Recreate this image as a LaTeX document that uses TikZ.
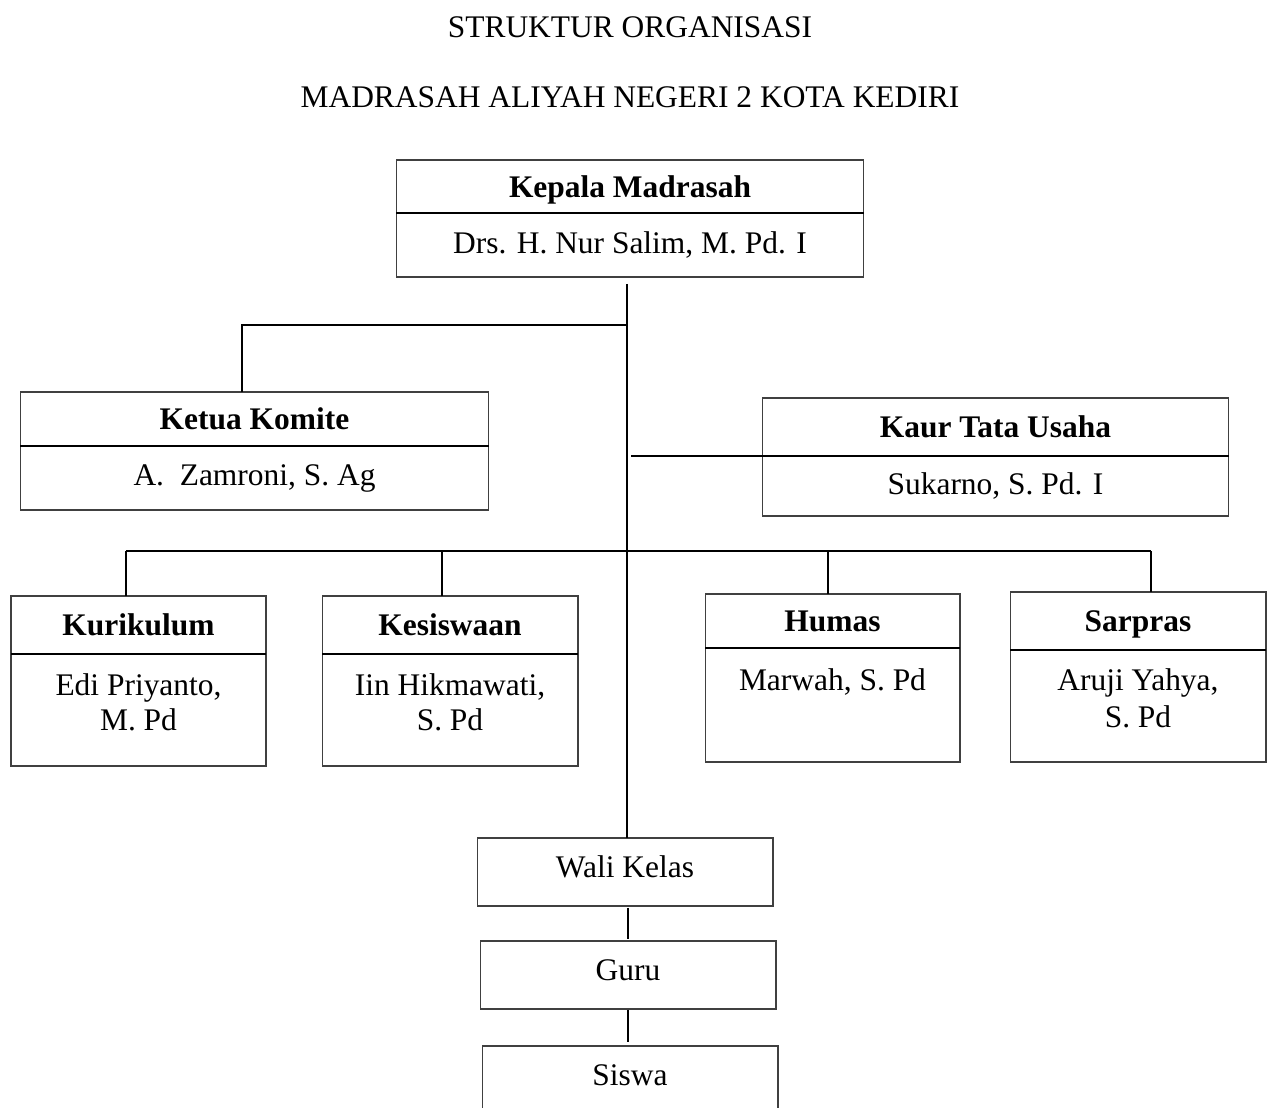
\documentclass[tikz,border=0pt]{standalone}
\usepackage{fontspec}
\setmainfont{Liberation Serif}
\usepackage{tikz}
\usetikzlibrary{positioning}

\begin{document}
\begin{tikzpicture}[
  x=0.02cm, y=-0.02cm,
  font=\fontsize{17.9pt}{20pt}\selectfont,
  head/.style={rectangle, draw=black!75, line width=0.6pt, outer sep=0pt,
               inner sep=0pt, text height=12pt, text depth=0pt,
               font=\fontsize{17.9pt}{20pt}\selectfont\bfseries},
  body/.style={rectangle, draw=black!75, line width=0.6pt, outer sep=0pt,
               inner sep=0pt, align=center},
  single/.style={rectangle, draw=black!75, line width=0.6pt, outer sep=0pt,
                 inner sep=0pt, text height=12pt, text depth=5.5pt,
                 minimum width=5.92cm, minimum height=1.36cm},
  divider/.style={line width=1.1pt},
  conn/.style={line width=1.1pt},
]
\useasboundingbox (0,0) rectangle (1269,1108);

% Title
\node (title) at (630,27) {STRUKTUR ORGANISASI};
\node (subtitle) at (630,97) {MADRASAH ALIYAH NEGERI 2 KOTA KEDIRI};

% Kepala Madrasah
\node[head, minimum width=9.36cm, minimum height=1.06cm] (kephead) at (630,186.5)
  {Kepala Madrasah};
\node[body, minimum width=9.36cm, minimum height=1.28cm, below=0pt of kephead] (kepbody)
  {Drs. H. Nur Salim, M. Pd. I};

% Ketua Komite
\node[head, minimum width=9.38cm, minimum height=1.08cm] (komhead) at (254.5,419)
  {Ketua Komite};
\node[body, minimum width=9.38cm, minimum height=1.28cm, below=0pt of komhead] (kombody)
  {A.\ \ Zamroni, S. Ag};

% Kaur Tata Usaha
\node[head, minimum width=9.34cm, minimum height=1.16cm] (tuhead) at (995.5,427)
  {Kaur Tata Usaha};
\node[body, minimum width=9.34cm, minimum height=1.2cm, below=0pt of tuhead] (tubody)
  {Sukarno, S. Pd. I};

% Wakil kepala
\node[head, minimum width=5.1cm, minimum height=1.16cm] (kurhead) at (138.5,625)
  {Kurikulum};
\node[body, minimum width=5.1cm, minimum height=2.24cm, below=0pt of kurhead] (kurbody)
  {Edi Priyanto,\\M. Pd\\[-11.5pt]};

\node[head, minimum width=5.12cm, minimum height=1.16cm] (keshead) at (450,625)
  {Kesiswaan};
\node[body, minimum width=5.12cm, minimum height=2.24cm, below=0pt of keshead] (kesbody)
  {Iin Hikmawati,\\S. Pd\\[-11.5pt]};

\node[head, minimum width=5.1cm, minimum height=1.08cm] (humhead) at (832.5,621)
  {Humas};
\node[body, minimum width=5.1cm, minimum height=2.28cm, below=0pt of humhead] (humbody)
  {Marwah, S. Pd\\[9.4pt]};

\node[head, minimum width=5.12cm, minimum height=1.16cm] (sarhead) at (1138,621)
  {Sarpras};
\node[body, minimum width=5.12cm, minimum height=2.24cm, below=0pt of sarhead] (sarbody)
  {Aruji Yahya,\\[1.5pt]S. Pd\\[-11pt]};

% Guru dan siswa
\node[single] (wali) at (625,872) {Wali Kelas};
\node[single] (guru) at (628,975) {Guru};
\node[single] (siswa) at (630,1080) {Siswa};

% Dividers
\foreach \n in {kep,kom,tu,kur,kes,hum,sar}
  \draw[divider] (\n head.south west) -- (\n head.south east);

% Lines
\coordinate (trunk) at (627,284);
\draw[conn] (trunk) -- (trunk |- wali.north);
\draw[conn] (trunk |- 0,325) -- (242,325) -- (242,325 |- komhead.north);
\draw[conn] (631,0 |- tuhead.south) -- (tuhead.south west);
\draw[conn] (126,551) -- (1151,551);
\foreach \x/\n in {126/kur,442/kes,828/hum,1151/sar}
  \draw[conn] (\x,551) -- (\x,551 |- \n head.north);
\draw[conn] (guru.north |- wali.south) ++(0,2) -- ([yshift=1pt]guru.north);
\draw[conn] (guru.south) ++(0,1) -- ([yshift=2pt]siswa.north -| guru.south);

\end{tikzpicture}
\end{document}
